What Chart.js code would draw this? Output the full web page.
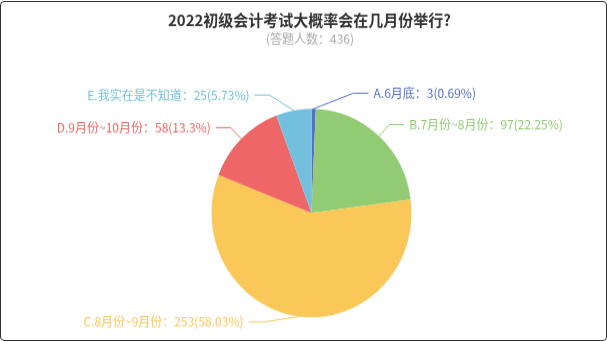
<!DOCTYPE html>
<html>
<head>
<meta charset="utf-8">
<script src="https://cdn.jsdelivr.net/npm/chart.js@4/dist/chart.umd.min.js"></script>
<style>
  html, body { margin: 0; padding: 0; background: #fff; }
  #wrap { position: relative; width: 607px; height: 341px; overflow: hidden; }
  #stretch { position: absolute; left: 0; top: 0; width: 607px; height: 327px;
             transform: scaleY(1.0428); transform-origin: 0 0; }
  #c { display: block; }
  #frame { position: absolute; left: 0; top: 1px; width: 607px; height: 340px; box-sizing: border-box;
           border: 1px solid #333; border-radius: 4px; pointer-events: none; }
</style>
</head>
<body>
<div id="wrap">
  <div id="stretch"><canvas id="c" width="607" height="327"></canvas></div>
  <div id="frame"></div>
</div>
<script>
// ---- data ----
const titleText = '2022初级会计考试大概率会在几月份举行?';
const subtitleText = '(答题人数：436)';
const categories = ['A.6月底', 'B.7月份~8月份', 'C.8月份~9月份', 'D.9月份~10月份', 'E.我实在是不知道'];
const counts = [3, 97, 253, 58, 25];
const colors = ['#5470c6', '#91cc75', '#fac858', '#ee6666', '#73c0de'];

const total = counts.reduce((a, b) => a + b, 0);
const percents = counts.map(v => +(v / total * 100).toFixed(2));
const labelTexts = categories.map((c, i) => `${c}：${counts[i]}(${percents[i]}%)`);

const FONT = '"Noto Sans CJK SC", "Noto Sans", sans-serif';
const LEN1 = 15, LEN2 = 15, GAP = 5, MIN_RUN = 42, MIN_SPACING = 16;

const titlePlugin = {
  id: 'titles',
  afterDraw(chart) {
    const ctx = chart.ctx;
    ctx.save();
    ctx.textAlign = 'center';
    ctx.textBaseline = 'middle';
    ctx.fillStyle = '#333';
    ctx.font = 'bold 15px ' + FONT;
    ctx.fillText(titleText, 309.5, 19.2);
    ctx.fillStyle = '#aaa';
    ctx.font = '12px ' + FONT;
    ctx.fillText(subtitleText, 310, 37.4);
    ctx.restore();
  }
};

const labelPlugin = {
  id: 'pieLabels',
  afterDatasetsDraw(chart) {
    const ctx = chart.ctx;
    const meta = chart.getDatasetMeta(0);
    const area = chart.chartArea;
    const items = meta.data.map((arc, i) => {
      const p = arc.getProps(['x', 'y', 'startAngle', 'endAngle', 'outerRadius'], true);
      const mid = (p.startAngle + p.endAngle) / 2;
      const dx = Math.cos(mid), dy = Math.sin(mid);
      const R = p.outerRadius + LEN1;
      return { i, cx: p.x, cy: p.y, r: p.outerRadius, R, dx, dy,
               side: dx >= 0 ? 1 : -1, ey: p.y + R * dy };
    });
    // overlap resolution per side
    [1, -1].forEach(side => {
      const list = items.filter(it => it.side === side).sort((a, b) => a.ey - b.ey);
      for (let k = 1; k < list.length; k++) {
        if (list[k].ey - list[k - 1].ey < MIN_SPACING) list[k].ey = list[k - 1].ey + MIN_SPACING;
      }
      const maxY = area.bottom + 4.5;
      for (let k = list.length - 1; k >= 0; k--) {
        const lim = k === list.length - 1 ? maxY : list[k + 1].ey - MIN_SPACING;
        if (list[k].ey > lim) list[k].ey = lim;
      }
    });
    ctx.save();
    ctx.font = '12px ' + FONT;
    ctx.textBaseline = 'middle';
    ctx.lineWidth = 1;
    items.forEach(it => {
      const ddy = it.ey - it.cy;
      const run = Math.max(Math.sqrt(Math.max(it.R * it.R - ddy * ddy, 0)), MIN_RUN);
      const ex = it.cx + it.side * run;
      const sx = it.cx + it.r * it.dx, sy = it.cy + it.r * it.dy;
      const endX = ex + it.side * LEN2;
      ctx.strokeStyle = colors[it.i];
      ctx.beginPath();
      ctx.moveTo(sx, sy);
      ctx.lineTo(ex, it.ey);
      ctx.lineTo(endX, it.ey);
      ctx.stroke();
      ctx.fillStyle = colors[it.i];
      ctx.textAlign = it.side > 0 ? 'left' : 'right';
      ctx.fillText(labelTexts[it.i], endX + it.side * GAP, it.ey);
    });
    ctx.restore();
  }
};

new Chart(document.getElementById('c'), {
  type: 'pie',
  data: {
    labels: categories,
    datasets: [{
      data: counts,
      backgroundColor: colors,
      borderWidth: 0,
      hoverOffset: 0
    }]
  },
  options: {
    responsive: false,
    animation: false,
    devicePixelRatio: 1,
    layout: { padding: { top: 104.3, bottom: 22.7, left: 111.5, right: 95.5 } },
    plugins: {
      legend: { display: false },
      tooltip: { enabled: false },
      title: { display: false }
    }
  },
  plugins: [labelPlugin, titlePlugin]
});
</script>
</body>
</html>
